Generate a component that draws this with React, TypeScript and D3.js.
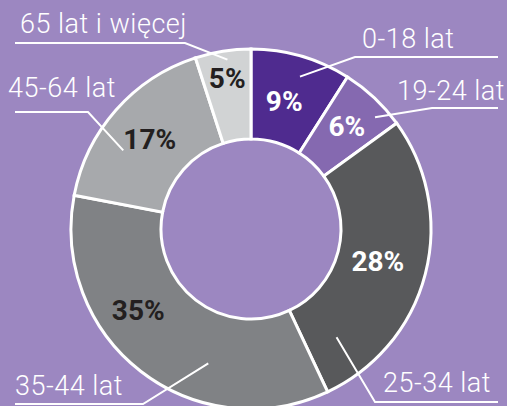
import React from 'react';
import * as d3 from 'd3';

// age groups, clockwise from 12 o'clock
const categories = ['0-18 lat', '19-24 lat', '25-34 lat', '35-44 lat', '45-64 lat', '65 lat i więcej'];
const shares = [9, 6, 28, 35, 17, 5];
const sliceColors = ['#4f2b8f', '#8569b0', '#58595b', '#808285', '#a7a9ac', '#d1d3d4'];
const valueColors = ['#ffffff', '#ffffff', '#ffffff', '#231f20', '#231f20', '#231f20'];

const W = 507;
const H = 406;
const BG = '#9c87c1';

// label layout: side, text start x, baseline, underline y, elbow x,
// leader end as fraction through the slice + radius
const labelLayout = [
  { side: 'right', tx: 362, ty: 48, ly: 57, ex: 355, t: 0.55, r: 160 },
  { side: 'right', tx: 397, ty: 100, ly: 108, ex: 432, t: 0.72, r: 167 },
  { side: 'right', tx: 383, ty: 392, ly: 402, ex: 375, t: 0.87, r: 138 },
  { side: 'left', tx: 15, ty: 395, ly: 404, ex: 143, t: 0.34, r: 141 },
  { side: 'left', tx: 8, ty: 97, ly: 112, ex: 88, t: 0.34, r: 150 },
  { side: 'left', tx: 20, ty: 33, ly: 43, ex: 185, t: 0.56, r: 171 },
];
// where the percentage sits: radius and fraction through the slice
const valuePos = [
  { t: 0.45, r: 132 },
  { t: 0.5, r: 140 },
  { t: 0.5, r: 131 },
  { t: 0.63, r: 139 },
  { t: 0.5, r: 135 },
  { t: 0.5, r: 152 },
];

export default function App() {
  const cx = 251;
  const cy = 229;
  const outerR = 180;
  const innerR = 90;

  const pie = d3.pie<number>().sort(null).value((d) => d);
  const arcs = pie(shares);
  const arc = d3.arc<d3.PieArcDatum<number>>().innerRadius(innerR).outerRadius(outerR);

  const polar = (a: number, r: number): [number, number] => [
    cx + r * Math.sin(a),
    cy - r * Math.cos(a),
  ];

  return (
    <svg
      width={W}
      height={H}
      style={{ position: 'absolute', left: 0, top: 0, background: BG }}
    >
      <rect width={W} height={H} fill={BG} />
      <g transform={`translate(${cx},${cy})`}>
        {arcs.map((a, i) => (
          <path key={i} d={arc(a) || ''} fill={sliceColors[i]} stroke="#fff" strokeWidth={3} />
        ))}
      </g>

      {arcs.map((a, i) => {
        const L = labelLayout[i];
        const ang = a.startAngle + (a.endAngle - a.startAngle) * L.t;
        const [px, py] = polar(ang, L.r);
        const lineEnd = L.side === 'right' ? 498 : 15;
        const pts: [number, number][] = [
          [lineEnd, L.ly],
          [L.ex, L.ly],
          [px, py],
        ];
        return (
          <g key={'l' + i}>
            <path
              d={d3.line()(pts) || ''}
              fill="none"
              stroke="#fff"
              strokeWidth={2}
            />
            <text
              x={L.tx}
              y={L.ty}
              fill="#fff"
              fontFamily="Roboto, sans-serif"
              fontWeight={300}
              fontSize={27}
              letterSpacing={0.5}
            >
              {categories[i]}
            </text>
          </g>
        );
      })}

      {arcs.map((a, i) => {
        const P = valuePos[i];
        const ang = a.startAngle + (a.endAngle - a.startAngle) * P.t;
        const [px, py] = polar(ang, P.r);
        return (
          <text
            key={'v' + i}
            x={px}
            y={py}
            textAnchor="middle"
            dominantBaseline="central"
            fill={valueColors[i]}
            fontFamily="Roboto, sans-serif"
            fontWeight={700}
            fontSize={28}
          >
            {shares[i]}%
          </text>
        );
      })}
    </svg>
  );
}
